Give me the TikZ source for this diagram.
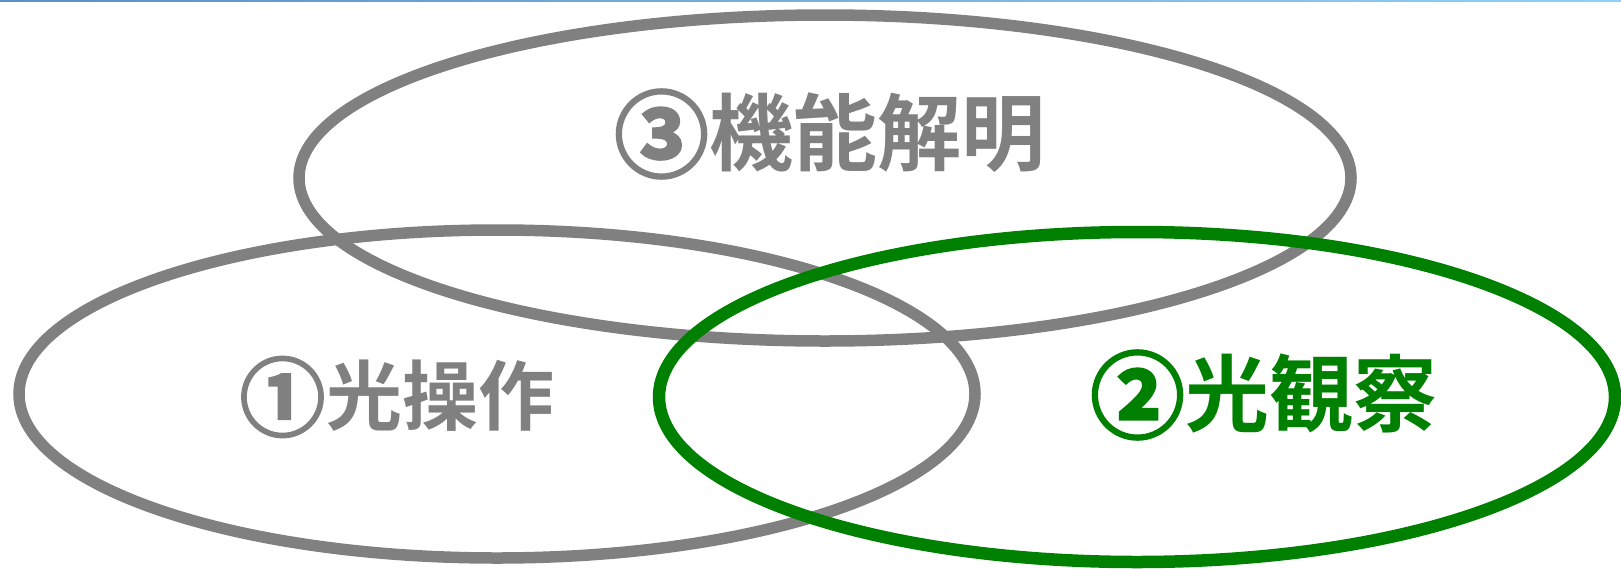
\documentclass[tikz,border=0pt]{standalone}
\usepackage{fontspec}
\newfontfamily\jp{Noto Sans CJK JP Bold}
\newfontfamily\jpb[FakeBold=3]{Noto Sans CJK JP Bold}
\definecolor{grayc}{HTML}{808080}
\definecolor{greenc}{HTML}{008000}
\definecolor{blueL}{HTML}{5B90C8}
\definecolor{blueR}{HTML}{90D0F5}
\newcommand\circd[2]{\raisebox{-#1pt*6/100}{\jpb\fontsize{#1}{#1}\selectfont #2}\kern2pt}
\begin{document}
\begin{tikzpicture}[x=1pt,y=-1pt,
  ring/.style={draw=grayc,line width=11.5pt},
  gring/.style={draw=greenc,line width=12.5pt},
  lab/.style={font=\jp\fontsize{84}{84}\selectfont,inner sep=0pt,anchor=center},
  labs/.style={font=\jp\fontsize{76}{76}\selectfont,inner sep=0pt,anchor=center}]
\useasboundingbox (0,0) rectangle (1621,568);
\fill[left color=blueL,right color=blueR] (0,0) rectangle (1621,1.5);
\draw[ring] (497,394) ellipse [x radius=478, y radius=164];
\draw[ring] (825,178) ellipse [x radius=526, y radius=163];
\draw[gring] (1137,397) ellipse [x radius=478, y radius=165];
\node[lab,text=grayc] (t3) at (830,134) {\raisebox{-5pt}{\jpb\fontsize{94}{94}\selectfont ③}\kern1pt 機能解明};
\node[labs,text=grayc] (t1) at (397,397) {\raisebox{-4.5pt}{\jpb\fontsize{85}{85}\selectfont ①}\kern1pt 光操作};
\node[lab,text=greenc] (t2) at (1264,395) {\raisebox{-5pt}{\jpb\fontsize{94}{94}\selectfont ②}\kern1pt 光観察};
\end{tikzpicture}
\end{document}
